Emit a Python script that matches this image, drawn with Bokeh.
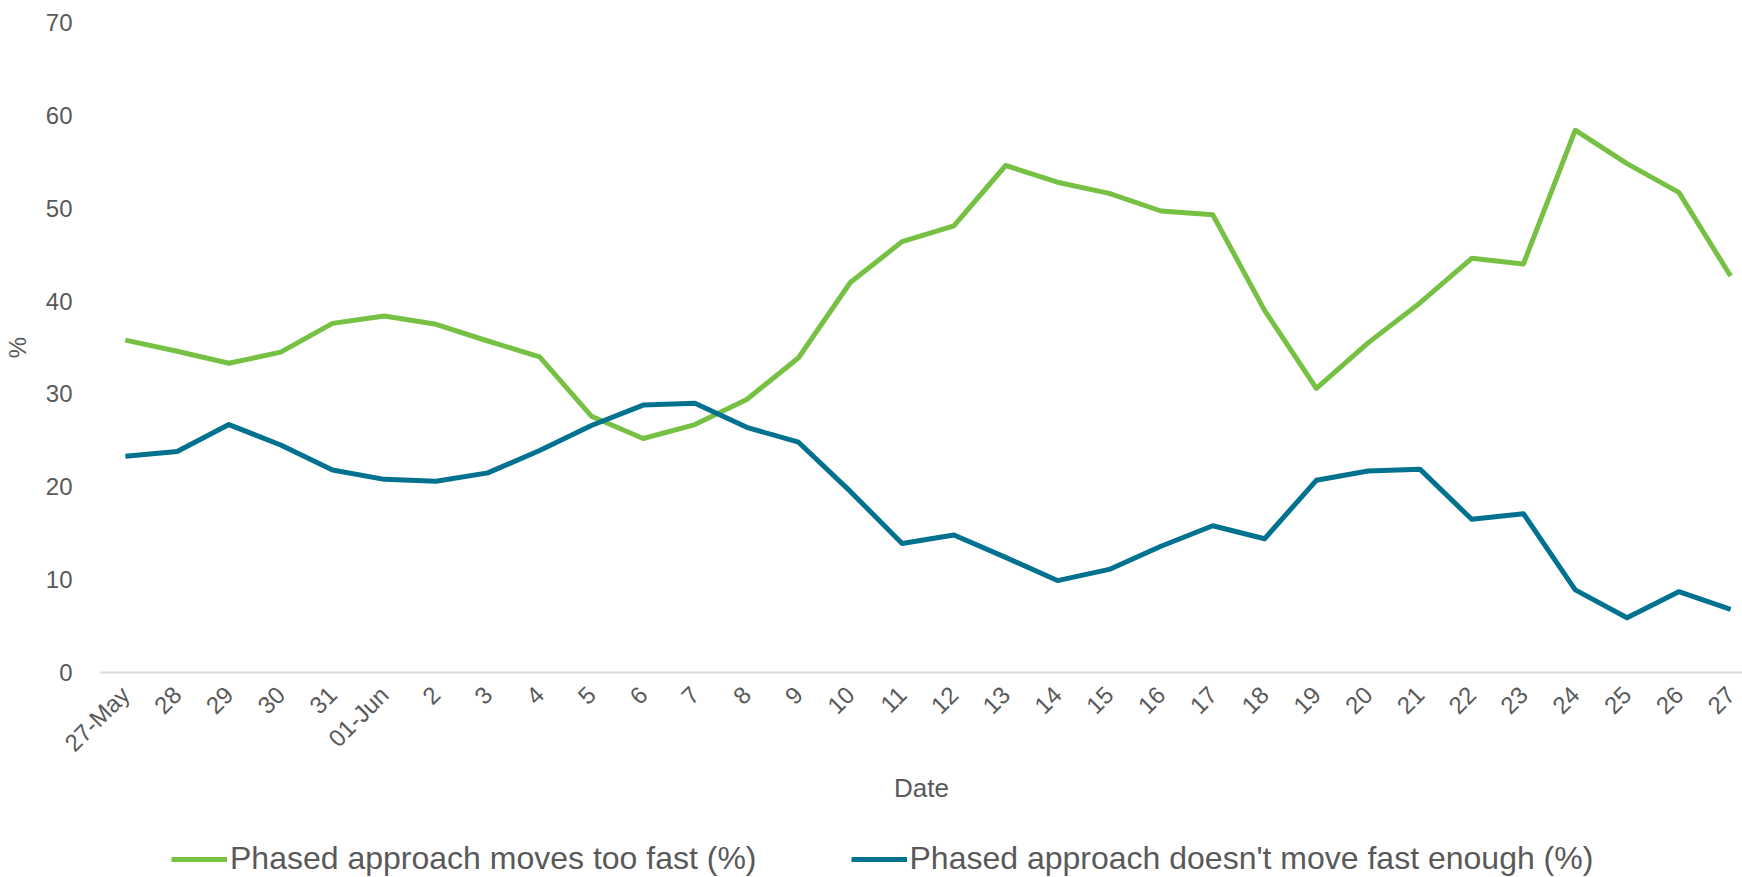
import math
from bokeh.plotting import figure
from bokeh.layouts import column
from bokeh.models import Range1d, Legend, LegendItem, FixedTicker
from bokeh.embed import file_html
from bokeh.resources import INLINE

dates = ["27-May", "28", "29", "30", "31", "01-Jun", "2", "3", "4", "5", "6", "7", "8", "9",
         "10", "11", "12", "13", "14", "15", "16", "17", "18", "19", "20", "21", "22", "23",
         "24", "25", "26", "27"]
too_fast = [35.8, 34.6, 33.3, 34.5, 37.6, 38.4, 37.5, 35.7, 34.0, 27.6, 25.2, 26.7, 29.4, 33.9,
            42.0, 46.4, 48.1, 54.6, 52.8, 51.6, 49.7, 49.3, 39.0, 30.6, 35.5, 39.8, 44.6, 44.0,
            58.4, 54.8, 51.7, 42.7]
not_fast = [23.3, 23.8, 26.7, 24.5, 21.8, 20.8, 20.6, 21.5, 23.9, 26.6, 28.8, 29.0, 26.4, 24.8,
            19.5, 13.9, 14.8, 12.4, 9.9, 11.1, 13.6, 15.8, 14.4, 20.7, 21.7, 21.9, 16.5, 17.1,
            8.9, 5.9, 8.7, 6.8]
y_ticks = [0, 10, 20, 30, 40, 50, 60, 70]
series_names = ["Phased approach moves too fast (%)", "Phased approach doesn't move fast enough (%)"]

GREEN = "#76C043"
BLUE = "#00728F"
TEXT = "#595959"
FONT = "Liberation Sans"
LW = 5

xs = list(range(len(dates)))

p = figure(width=1742, height=815, output_backend="svg", toolbar_location=None,
           x_range=Range1d(-0.48, 31.23), y_range=Range1d(0, 70),
           min_border_left=92, min_border_top=22, min_border_right=0, min_border_bottom=143)
p.outline_line_color = None
p.xgrid.visible = False
p.ygrid.visible = False

p.line(xs, too_fast, line_color=GREEN, line_width=LW, line_join="round")
p.line(xs, not_fast, line_color=BLUE, line_width=LW, line_join="round")

# y axis
ya = p.yaxis[0]
ya.ticker = FixedTicker(ticks=y_ticks)
ya.axis_line_color = None
ya.major_tick_line_color = None
ya.minor_tick_line_color = None
ya.major_label_text_font = FONT
ya.major_label_text_font_size = "24px"
ya.major_label_text_color = TEXT
ya.major_label_standoff = 22
ya.axis_label = "%"
ya.axis_label_text_font = FONT
ya.axis_label_text_font_size = "24px"
ya.axis_label_text_font_style = "normal"
ya.axis_label_text_color = TEXT
ya.axis_label_standoff = 12

# x axis
xa = p.xaxis[0]
xa.ticker = FixedTicker(ticks=xs)
xa.major_label_overrides = {i: d for i, d in enumerate(dates)}
xa.major_label_orientation = math.pi / 4
xa.axis_line_color = "#D9D9D9"
xa.axis_line_width = 2
xa.major_tick_line_color = None
xa.minor_tick_line_color = None
xa.major_label_text_font = FONT
xa.major_label_text_font_size = "24px"
xa.major_label_text_color = TEXT
xa.major_label_standoff = 12
xa.axis_label = "Date"
xa.axis_label_text_font = FONT
xa.axis_label_text_font_size = "26px"
xa.axis_label_text_font_style = "normal"
xa.axis_label_text_color = TEXT
xa.axis_label_standoff = 4

# legend strip: a small figure whose (out-of-view) series lines feed the legend entries
lg = figure(width=1742, height=62, output_backend="svg", toolbar_location=None,
            x_range=Range1d(-0.48, 31.23), y_range=Range1d(1000, 1001),
            min_border_left=0, min_border_top=0, min_border_right=0, min_border_bottom=0)
lg.outline_line_color = None
lg.xaxis.visible = False
lg.yaxis.visible = False
lg.xgrid.visible = False
lg.ygrid.visible = False
g1 = lg.line(xs, too_fast, line_color=GREEN, line_width=LW)
g2 = lg.line(xs, not_fast, line_color=BLUE, line_width=LW)

legend = Legend(items=[LegendItem(label=series_names[0], renderers=[g1]),
                       LegendItem(label=series_names[1], renderers=[g2])],
                orientation="horizontal", location=(71, 0),
                label_text_font=FONT, label_text_font_size="32px", label_text_color=TEXT,
                glyph_width=56, glyph_height=20, label_standoff=3, spacing=94,
                border_line_color=None, background_fill_alpha=0, padding=0, margin=0)
lg.add_layout(legend, "center")

layout = column(p, lg, spacing=0)
open("out.html", "w").write(file_html(layout, INLINE))
